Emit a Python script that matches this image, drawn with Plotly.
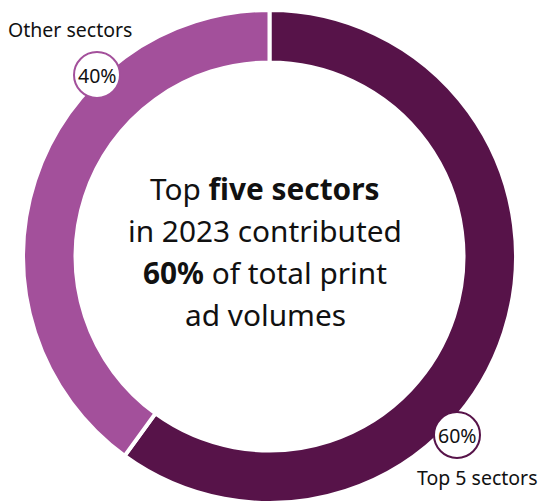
import plotly.graph_objects as go

labels = ["Top 5 sectors", "Other sectors"]
values = [60, 40]
colors = ["#571349", "#a3509b"]
pct_text = ["60%", "40%"]
center_lines = ["Top <b>five sectors</b>", "in 2023 contributed",
                "<b>60%</b> of total print", "ad volumes"]

W, H = 541, 503
FONT = "Noto Sans"

fig = go.Figure(go.Pie(
    labels=labels, values=values, sort=False, direction="clockwise", rotation=0,
    hole=0.787, textinfo="none", hoverinfo="label+percent",
    marker=dict(colors=colors, line=dict(color="white", width=4)),
    domain=dict(x=[(269.5 - 247) / W, (269.5 + 247) / W], y=[0, 1 - 10 / H]),
    showlegend=False,
))

def px(x):
    return x / W

def py(y):
    return 1 - y / H

shapes = []
annotations = []

# center text
line_y = [188, 230, 272, 314]
for t, y in zip(center_lines, line_y):
    annotations.append(dict(text=t, x=px(265), y=py(y), xref="paper", yref="paper",
                            showarrow=False, xanchor="center", yanchor="middle",
                            font=dict(family=FONT, size=29.8, color="#111111")))

# percent badges
badges = [(457, 435, colors[0], pct_text[0]), (97, 75, colors[1], pct_text[1])]
for cx, cy, col, t in badges:
    shapes.append(dict(type="circle", xref="paper", yref="paper",
                       xsizemode="pixel", ysizemode="pixel",
                       xanchor=px(cx), yanchor=py(cy), x0=-23, x1=23, y0=-23, y1=23,
                       fillcolor="white", line=dict(color=col, width=2), layer="above"))
    annotations.append(dict(text=t, x=px(cx), y=py(cy), xref="paper", yref="paper",
                            showarrow=False, xanchor="center", yanchor="middle",
                            font=dict(family=FONT, size=19.5, color="#111111")))

annotations.append(dict(text=labels[1], x=px(6), y=py(30), xref="paper", yref="paper",
                        showarrow=False, xanchor="left", yanchor="middle",
                        font=dict(family=FONT, size=19.5, color="#111111")))
annotations.append(dict(text=labels[0], x=px(540), y=py(477), xref="paper", yref="paper",
                        showarrow=False, xanchor="right", yanchor="middle",
                        font=dict(family=FONT, size=19.5, color="#111111")))

fig.update_layout(width=W, height=H, margin=dict(l=0, r=0, t=0, b=0),
                  paper_bgcolor="white", plot_bgcolor="white",
                  shapes=shapes, annotations=annotations)

fig.write_html("out.html", config={"displayModeBar": False},
               post_script="document.body.style.margin='0';")
